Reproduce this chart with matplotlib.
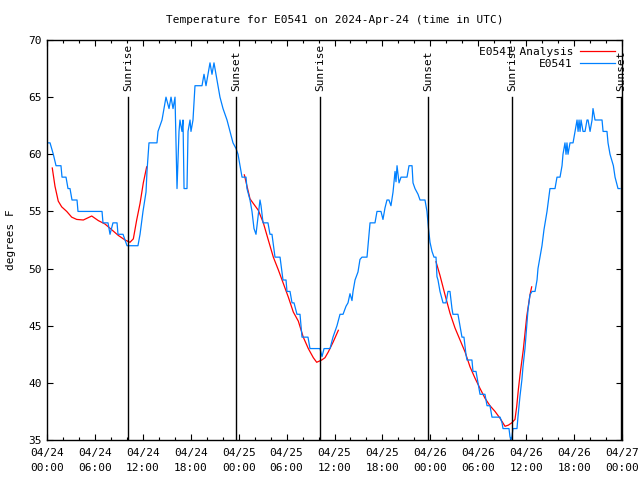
import datetime as dt
import numpy as np
import matplotlib
matplotlib.use("Agg")
import matplotlib.pyplot as plt
import matplotlib.dates as mdates

plt.rcParams['font.family'] = ['DejaVu Sans Mono']

start = dt.datetime(2024, 4, 24, 0, 0)

# observed temperature (hours since 04/24 00:00 UTC, degrees F)
obs_hours = [0.16, 0.38, 0.79, 1.13, 1.75, 1.88, 2.38, 2.63, 2.88, 3.13, 3.76, 3.88, 6.89, 7.01,
             7.64, 7.89, 8.26, 8.77, 8.89, 9.52, 10.02, 11.39, 11.65, 12.02, 12.40, 12.52, 12.77,
             13.77, 13.90, 14.40, 14.65, 14.90, 15.28, 15.53, 15.78, 16.03, 16.28, 16.53, 16.65,
             16.90, 17.03, 17.16, 17.53, 17.66, 17.91, 18.03, 18.28, 18.53, 19.41, 19.66, 19.91,
             20.16, 20.41, 20.66, 20.91, 21.16, 21.41, 21.66, 22.04, 22.54, 22.92, 23.29, 23.67,
             23.92, 24.17, 24.42, 24.92, 25.04, 25.42, 25.67, 25.92, 26.17, 26.42, 26.67, 26.80,
             27.05, 27.67, 27.92, 28.17, 28.55, 29.18, 29.55, 29.93, 30.05, 30.43, 30.68, 30.93,
             31.30, 31.68, 31.93, 32.68, 32.93, 34.18, 34.44, 34.69, 35.44, 35.81, 36.31, 36.69,
             37.07, 37.44, 37.69, 37.94, 38.19, 38.32, 38.57, 38.94, 39.19, 39.44, 40.07, 40.20,
             40.45, 41.07, 41.32, 41.82, 42.07, 42.32, 42.57, 42.82, 43.07, 43.33, 43.58, 43.70,
             43.83, 44.08, 44.33, 45.08, 45.33, 45.71, 45.83, 46.08, 46.46, 46.71, 47.33, 47.58,
             47.77, 47.96, 48.21, 48.46, 48.71, 48.83, 48.96, 49.21, 49.59, 49.96, 50.21, 50.46,
             50.71, 50.83, 51.46, 51.71, 51.96, 52.21, 52.46, 52.59, 53.21, 53.34, 53.72, 53.97,
             54.22, 54.84, 55.10, 55.47, 55.72, 56.73, 56.98, 57.10, 57.85, 57.97, 58.10, 58.22,
             58.35, 58.85, 58.97, 59.22, 59.47, 59.60, 59.85, 60.10, 60.23, 60.48, 60.73, 61.11,
             61.36, 61.48, 61.73, 61.98, 62.23, 62.61, 62.98, 63.61, 63.86, 64.24, 64.49, 64.61,
             64.86, 64.99, 65.11, 65.24, 65.49, 65.87, 66.12, 66.37, 66.50, 66.62, 66.75, 66.87,
             67.12, 67.37, 67.62, 67.75, 68.00, 68.25, 68.37, 68.62, 69.50, 69.63, 70.12, 70.25,
             70.50, 70.92, 71.13, 71.50, 71.75]
obs_temps = [61, 61, 60, 59, 59, 58, 58, 57, 57, 56, 56, 55, 55, 54,
             54, 53, 54, 54, 53, 53, 52, 52, 53, 55, 56.7, 58.5, 61,
             61, 62, 63, 64, 65, 64, 65, 64, 65, 57, 62, 63,
             62, 63, 57, 57, 62, 63, 62, 63, 66, 66, 67, 66,
             67, 68, 67, 68, 67, 66, 65, 64, 63, 62, 61, 60.5,
             60, 59, 58, 58, 57, 56, 55, 53.5, 53, 54.5, 56, 55.5,
             54, 54, 53, 53, 51, 51, 49, 49, 48, 48, 47, 47,
             46, 46, 44, 44, 43, 43, 42.3, 43, 43, 44, 45, 46,
             46, 46.7, 47, 47.8, 47.2, 48, 49, 49.7, 50.8, 51, 51, 52,
             54, 54, 55, 55, 54.3, 55.3, 56, 56, 55.5, 56.7, 58.5, 57.6,
             59, 57.5, 58, 58, 59, 59, 57.5, 57, 56.5, 56, 56, 55,
             53.5, 52.3, 51.5, 51, 51, 49.3, 49, 48, 47, 47, 48, 48,
             46.5, 46, 46, 45, 44, 44, 42.5, 42, 42, 41, 41, 40,
             39, 39, 38, 38, 37, 37, 36.5, 36, 36, 35.3, 35, 35.3,
             36, 36, 37, 38.8, 40.3, 41.4, 43, 45.2, 46.4, 47.7, 48, 48,
             49, 50, 51, 52, 53.4, 55, 57, 57, 58, 58, 59, 60,
             61, 60, 61, 60, 61, 61, 62, 63, 62, 63, 62, 63,
             62, 62, 63, 63, 62, 63, 64, 63, 63, 62, 62, 61,
             60, 59, 58, 57, 57]

# analysis (three separate pieces, nan = gap)
ana_hours = [0.66, 1.00, 1.41, 1.84, 2.47, 3.09, 3.72, 4.55, 5.60, 6.42, 7.26, 8.10, 8.93, 9.77,
             10.39, 10.81, 11.23, 11.65, 12.06, 12.48, np.nan,
             24.71, 25.42, 25.83, 26.46, 27.09, 27.71, 28.34, 28.96, 29.59, 30.22, 30.84, 31.47,
             32.09, 32.72, 33.35, 33.77, 34.40, 34.81, 35.22, 35.85, 36.48, np.nan,
             48.71, 49.21, 49.84, 50.46, 51.09, 51.72, 52.35, 52.97, 53.60, 54.23, 54.85, 55.47,
             56.10, 56.73, 57.35, 57.77, 58.19, 58.60, 58.81, 59.02, 59.23, 59.64, 60.07, 60.48,
             60.69]
ana_temps = [58.8, 57.2, 55.9, 55.4, 55.0, 54.5, 54.3, 54.25, 54.6, 54.2, 53.9, 53.4, 52.9, 52.5,
             52.3, 52.6, 54.25, 55.7, 57.5, 58.9, np.nan,
             58.2, 56.1, 55.7, 55.1, 54.0, 52.5, 51.0, 49.9, 48.7, 47.5, 46.2, 45.4,
             44.0, 43.0, 42.2, 41.8, 42.0, 42.2, 42.7, 43.6, 44.6, np.nan,
             50.6, 49.4, 47.7, 46.1, 44.8, 43.75, 42.7, 41.4, 40.4, 39.5, 38.65, 38.0,
             37.5, 36.9, 36.2, 36.3, 36.5, 36.8, 37.9, 39.4, 40.7, 42.9, 45.8, 47.7,
             48.4]

sun_hours = [10.14, 23.67, 34.18, 47.71, 58.23, 71.88]
sun_labels = ['Sunrise', 'Sunset', 'Sunrise', 'Sunset', 'Sunrise', 'Sunset']

obs_t = mdates.date2num([start + dt.timedelta(hours=h) for h in obs_hours])
ana_t = np.array([mdates.date2num(start + dt.timedelta(hours=h)) if not np.isnan(h) else np.nan
                  for h in ana_hours])

fig = plt.figure(figsize=(6.4, 4.8), dpi=100)
ax = fig.add_axes([47 / 640, 40 / 480, 575 / 640, 400 / 480])

ax.plot(ana_t, ana_temps, color='#ff0000', lw=0.9, label='E0541 Analysis')
ax.plot(obs_t, obs_temps, color='#0080ff', lw=0.9, label='E0541')

for h, lab in zip(sun_hours, sun_labels):
    x = mdates.date2num(start + dt.timedelta(hours=h))
    ax.plot([x, x], [35, 65], color='black', lw=1.0)
    ax.text(x, 65.5, lab, rotation=90, ha='center', va='bottom', fontsize=8)

ax.set_xlim(mdates.date2num(start), mdates.date2num(start + dt.timedelta(hours=72)))
ax.set_ylim(35, 70)
ax.set_yticks(range(35, 71, 5))
ax.xaxis.set_major_locator(mdates.HourLocator(byhour=[0, 6, 12, 18]))
ax.xaxis.set_minor_locator(mdates.HourLocator(interval=2))
ax.xaxis.set_major_formatter(mdates.DateFormatter('%m/%d\n%H:%M'))
ax.tick_params(which='both', direction='in', top=True, right=True, labelsize=8)
ax.tick_params(which='major', length=4.5, width=0.8)
ax.tick_params(axis='x', which='major', pad=6)
ax.tick_params(which='minor', length=2.5, width=0.8)
for s in ax.spines.values():
    s.set_linewidth(1.0)
fig.canvas.draw()
for lab in ax.get_xticklabels():
    lab.set_linespacing(1.6)

ax.set_ylabel('degrees F', fontsize=8, labelpad=9)
ax.set_title('Temperature for E0541 on 2024-Apr-24 (time in UTC)', fontsize=8, pad=12)
ax.legend(loc='upper right', frameon=False, markerfirst=False, fontsize=8,
          handlelength=3.2, borderaxespad=0.2, labelspacing=0.2, handletextpad=0.6)

fig.savefig('out.png', dpi=100)
